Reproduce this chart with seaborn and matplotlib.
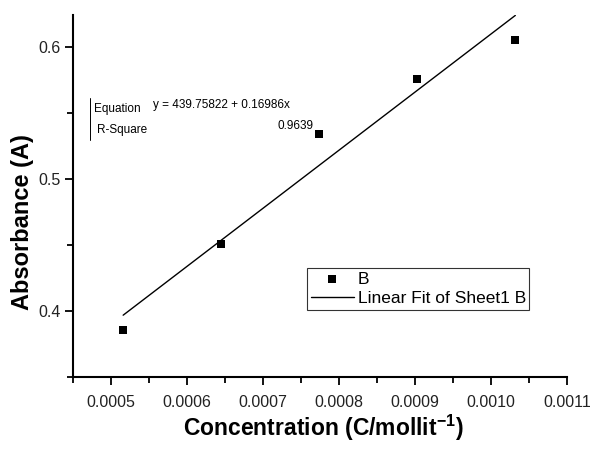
import numpy as np
import pandas as pd
import matplotlib
matplotlib.use("Agg")
import matplotlib.pyplot as plt
import seaborn as sns
from matplotlib.ticker import MultipleLocator

# Data
conc = [0.000516, 0.000645, 0.000774, 0.000903, 0.001032]
absorb = [0.3854, 0.4504, 0.5336, 0.5758, 0.6047]
intercept = 0.16986
slope = 439.75822
r_square_text = "0.9639"
equation_text = "y = 439.75822 + 0.16986x"
xtick_vals = [0.0005, 0.0006, 0.0007, 0.0008, 0.0009, 0.0010, 0.0011]
xtick_labels = ["0.0005", "0.0006", "0.0007", "0.0008", "0.0009", "0.0010", "0.0011"]
ytick_vals = [0.4, 0.5, 0.6]
ytick_labels = ["0.4", "0.5", "0.6"]

sns.set_theme(style="ticks")
plt.rcParams['font.family'] = ['Liberation Sans', 'DejaVu Sans']
plt.rcParams['mathtext.fontset'] = 'custom'
plt.rcParams['mathtext.rm'] = 'Liberation Sans'
plt.rcParams['mathtext.bf'] = 'Liberation Sans:bold'
plt.rcParams['text.color'] = 'black'
plt.rcParams['axes.labelcolor'] = 'black'

fig = plt.figure(figsize=(5.92, 4.49), dpi=100)
ax = fig.add_axes([0.1233, 0.1604, 0.8345, 0.8062])

df = pd.DataFrame({"x": conc, "y": absorb})
fit_x = np.array([conc[0], conc[-1]])
fit_df = pd.DataFrame({"x": fit_x, "y": intercept + slope * fit_x})

sns.lineplot(data=fit_df, x="x", y="y", ax=ax, color="black", linewidth=1.0,
             label="Linear Fit of Sheet1 B")
sns.scatterplot(data=df, x="x", y="y", ax=ax, marker="s", color="black", s=40,
                edgecolor="black", linewidth=0, label="B", zorder=3)

ax.set_xlim(0.00045, 0.0011)
ax.set_ylim(0.35, 0.624)
ax.xaxis.set_minor_locator(MultipleLocator(0.00005))
ax.yaxis.set_minor_locator(MultipleLocator(0.05))
ax.set_xticks(xtick_vals)
ax.set_xticklabels(xtick_labels)
ax.set_yticks(ytick_vals)
ax.set_yticklabels(ytick_labels)

for s in ["top", "right"]:
    ax.spines[s].set_visible(False)
for s in ["left", "bottom"]:
    ax.spines[s].set_linewidth(1.5)
    ax.spines[s].set_color("black")

ax.tick_params(which="major", direction="out", length=6, width=1.3, colors="black",
               labelsize=11.5, labelcolor="#222222")
ax.tick_params(axis="x", which="major", pad=7)
ax.tick_params(axis="y", which="major", pad=3)
ax.tick_params(which="minor", direction="out", length=4, width=1.3, colors="black")

ax.set_xlabel("Concentration (C/mollit$^{\\mathbf{-1}}$)", fontsize=16.5, fontweight="bold",
              color="black")
ax.xaxis.set_label_coords(0.507, -0.141)
ax.xaxis.label.set_va("center")
ax.set_ylabel("Absorbance (A)", fontsize=17, fontweight="bold", color="black")
ax.yaxis.set_label_coords(-0.103, 0.428)
ax.yaxis.label.set_va("center")

# legend in box
h, l = ax.get_legend_handles_labels()
leg = ax.legend(handles=h[::-1], labels=l[::-1],
                loc="upper left", bbox_to_anchor=(0.474, 0.301), frameon=True,
                fancybox=False, fontsize=12.5, handlelength=2.5, handletextpad=0.2,
                borderpad=0.2, labelspacing=0.25, borderaxespad=0)
leg.get_frame().set_edgecolor("black")
leg.get_frame().set_linewidth(0.8)
for t in leg.get_texts():
    t.set_color("black")

# equation table
fig.text(94 / 592, 1 - 109 / 449, "Equation", fontsize=8.5, va="center", ha="left")
fig.text(153 / 592, 1 - 105 / 449, equation_text, fontsize=8.5, va="center", ha="left")
fig.text(97 / 592, 1 - 130 / 449, "R-Square", fontsize=8.5, va="center", ha="left")
fig.text(313 / 592, 1 - 126 / 449, r_square_text, fontsize=8.5, va="center", ha="right")
fig.add_artist(plt.Line2D([90 / 592, 90 / 592], [1 - 98 / 449, 1 - 140 / 449],
                          transform=fig.transFigure, color="black", linewidth=0.7))

fig.savefig("out.png", dpi=100)
